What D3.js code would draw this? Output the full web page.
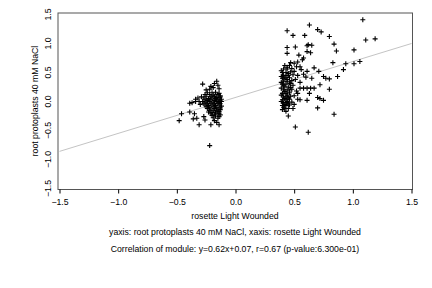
<!DOCTYPE html>
<meta charset="utf-8">

<!-- Load d3.js -->
<script src="https://d3js.org/d3.v7.min.js"></script>
<style>
    body { margin: 0; background: #fff; }
    text { font-family: "Liberation Sans", Arial, sans-serif; font-size: 8.7px; fill: #000; }
</style>

<div id="scatter"></div>

<script>
    // tick values on both axes
    var xTicks = [-1.5, -1.0, -0.5, 0.0, 0.5, 1.0, 1.5];
    var yTicks = [-1.5, -1.0, -0.5, 0.0, 0.5, 1.0, 1.5];

    // regression of the module
    var slope = 0.62, intercept = 0.07;

    var xLabel = "rosette Light Wounded";
    var yLabel = "root protoplasts 40 mM NaCl";
    var caption1 = "yaxis: root protoplasts 40 mM NaCl, xaxis: rosette Light Wounded";
    var caption2 = "Correlation of module: y=0.62x+0.07, r=0.67 (p-value:6.300e-01)";

    // left group of genes (x around -0.2)
    var groupLeft = [
        [-0.28,0.30],[-0.16,0.35],[-0.15,0.28],[-0.21,0.26],[-0.18,0.31],[-0.22,0.21],[-0.25,0.20],[-0.19,0.24],[-0.14,0.22],
        [-0.39,-0.03],[-0.37,-0.02],[-0.34,0.04],[-0.34,0.0],[-0.31,0.0],[-0.32,0.06],[-0.29,0.08],[-0.30,-0.05],
        [-0.46,-0.21],[-0.48,-0.33],[-0.39,-0.18],[-0.36,-0.30],[-0.35,-0.21],[-0.31,-0.40],[-0.33,-0.29],[-0.27,-0.26],
        [-0.26,-0.32],[-0.21,-0.40],[-0.22,-0.76],[-0.16,-0.36],[-0.14,-0.40],[-0.18,-0.33],
        [-0.24,0.15],[-0.20,0.15],[-0.17,0.16],[-0.14,0.14],
        [-0.26,0.12],[-0.22,0.12],[-0.19,0.11],[-0.15,0.12],[-0.13,0.10],
        [-0.25,0.09],[-0.21,0.08],[-0.18,0.09],[-0.16,0.07],[-0.13,0.08],
        [-0.27,0.06],[-0.23,0.05],[-0.20,0.06],[-0.17,0.05],[-0.14,0.06],[-0.12,0.04],
        [-0.26,0.03],[-0.24,0.02],[-0.21,0.03],[-0.18,0.02],[-0.15,0.03],[-0.13,0.01],
        [-0.28,0.0],[-0.25,-0.01],[-0.22,0.0],[-0.19,-0.01],[-0.16,0.0],[-0.14,-0.01],[-0.12,0.0],
        [-0.27,-0.03],[-0.24,-0.04],[-0.21,-0.03],[-0.18,-0.04],[-0.15,-0.03],[-0.13,-0.04],
        [-0.26,-0.06],[-0.23,-0.07],[-0.20,-0.06],[-0.17,-0.07],[-0.14,-0.06],[-0.12,-0.08],
        [-0.25,-0.09],[-0.22,-0.10],[-0.19,-0.09],[-0.16,-0.10],[-0.13,-0.11],
        [-0.24,-0.12],[-0.21,-0.13],[-0.18,-0.12],[-0.15,-0.13],[-0.13,-0.14],
        [-0.22,-0.15],[-0.19,-0.16],[-0.16,-0.15],[-0.14,-0.17],
        [-0.23,-0.18],[-0.20,-0.19],[-0.17,-0.18],[-0.14,-0.20],
        [-0.21,-0.21],[-0.18,-0.22],[-0.15,-0.21],[-0.13,-0.23],
        [-0.20,-0.24],[-0.17,-0.25],[-0.14,-0.26],
        [-0.19,-0.28],[-0.15,-0.29]
    ];

    // right group of genes (x around 0.45)
    var groupRight = [
        [1.085,1.41],[0.63,1.32],[0.70,1.24],[0.73,1.20],[0.44,1.22],[0.49,1.14],[0.59,1.14],[0.80,1.12],[1.11,1.06],
        [1.19,1.08],[0.84,0.99],[0.62,0.98],[0.65,0.97],[0.61,0.96],[0.44,0.93],[0.51,0.94],[0.86,0.87],[1.01,0.89],
        [0.61,0.86],[0.64,0.84],[0.44,0.83],[0.54,0.80],[0.83,0.67],[0.94,0.65],[1.01,0.65],[1.06,0.69],[0.58,0.75],
        [0.57,0.72],[0.47,0.67],[0.50,0.66],[0.53,0.68],[0.55,0.60],[0.92,0.55],[0.67,0.58],[0.71,0.52],[0.61,0.52],
        [0.75,0.43],[0.77,0.40],[0.87,0.43],[0.65,0.40],[0.80,0.39],[0.72,0.29],[0.55,0.23],[0.58,0.23],[0.61,0.23],
        [0.64,0.23],[0.67,0.23],[0.80,0.21],[0.63,0.14],[0.70,0.07],[0.72,0.05],[0.75,0.02],[0.61,0.02],[0.70,-0.11],
        [0.84,-0.22],[0.45,-0.25],[0.51,-0.44],[0.62,-0.53],[0.43,-0.17],
        [0.52,0.60],[0.56,0.55],[0.58,0.47],[0.60,0.42],[0.50,0.52],[0.53,0.45],[0.51,0.38],[0.55,0.33],
        [0.49,0.28],[0.52,0.18],[0.50,0.10],[0.53,0.04],[0.55,0.03],[0.50,-0.05],[0.49,-0.12],[0.53,0.14],
        [0.42,0.62],[0.46,0.62],[0.44,0.59],
        [0.41,0.56],[0.44,0.56],[0.48,0.57],[0.39,0.53],
        [0.40,0.50],[0.43,0.50],[0.47,0.51],[0.45,0.48],
        [0.41,0.45],[0.45,0.45],[0.49,0.46],[0.39,0.43],[0.43,0.42],
        [0.40,0.40],[0.42,0.40],[0.46,0.41],[0.44,0.38],
        [0.41,0.35],[0.44,0.35],[0.48,0.36],[0.39,0.33],[0.46,0.32],
        [0.40,0.30],[0.43,0.30],[0.47,0.31],[0.41,0.27],
        [0.42,0.25],[0.45,0.25],[0.39,0.23],[0.47,0.24],
        [0.41,0.20],[0.44,0.20],[0.48,0.21],[0.42,0.17],[0.46,0.18],
        [0.40,0.14],[0.43,0.14],[0.46,0.15],[0.39,0.11],[0.44,0.11],
        [0.41,0.08],[0.44,0.08],[0.47,0.09],[0.42,0.05],[0.45,0.06],
        [0.40,0.03],[0.43,0.03],[0.46,0.04],[0.39,0.00],[0.44,0.00],
        [0.41,-0.02],[0.44,-0.02],[0.48,-0.01],[0.42,-0.05],[0.45,-0.04],
        [0.40,-0.07],[0.43,-0.07],[0.46,-0.06],[0.41,-0.10],
        [0.42,-0.12],[0.45,-0.12],[0.40,-0.14]
    ];

    var width = 432, height = 288;

    var svg = d3.select("#scatter")
        .append("svg")
        .attr("width", width)
        .attr("height", height);

    var x = d3.scaleLinear()
        .domain([-1.5, 1.5])
        .range([59.5, 411.5]);

    var y = d3.scaleLinear()
        .domain([-1.5, 1.5])
        .range([188.5, 14.5]);

    // plot box
    svg.append("rect")
        .attr("x", 58)
        .attr("y", 13)
        .attr("width", 354.5)
        .attr("height", 176.5)
        .attr("fill", "none")
        .attr("stroke", "#555")
        .attr("stroke-width", 1);

    // regression line
    svg.append("line")
        .attr("x1", x(-1.5))
        .attr("y1", y(slope * -1.5 + intercept))
        .attr("x2", x(1.5))
        .attr("y2", y(slope * 1.5 + intercept))
        .attr("stroke", "#c4c4c4")
        .attr("stroke-width", 1);

    // x axis (ticks below the box)
    var xAxis = svg.append("g")
        .attr("transform", "translate(0,189.5)")
        .call(d3.axisBottom(x).tickValues(xTicks).tickSize(4).tickPadding(5)
            .tickFormat(d3.format(".1f")));
    xAxis.select(".domain").remove();
    xAxis.selectAll("text").style("font-size", "8.7px").style("font-family", "Liberation Sans, Arial, sans-serif");

    // y axis labels, rotated
    svg.selectAll(".ylab")
        .data(yTicks)
        .enter()
        .append("text")
        .attr("class", "ylab")
        .attr("text-anchor", "middle")
        .attr("transform", function(d) { return "translate(51," + y(d) + ") rotate(-90)"; })
        .text(function(d) { return d3.format(".1f")(d); });

    // points
    var cross = "M-2.5,0H2.5M0,-2.5V2.5";
    svg.selectAll(".pt")
        .data(groupLeft.concat(groupRight))
        .enter()
        .append("path")
        .attr("class", "pt")
        .attr("transform", function(d) { return "translate(" + x(d[0]) + "," + y(d[1]) + ")"; })
        .attr("d", cross)
        .attr("stroke", "#000")
        .attr("stroke-width", 1.1)
        .attr("fill", "none");

    // labels
    svg.append("text")
        .attr("x", 235).attr("y", 219)
        .attr("text-anchor", "middle")
        .text(xLabel);

    svg.append("text")
        .attr("transform", "translate(38,101) rotate(-90)")
        .attr("text-anchor", "middle")
        .text(yLabel);

    svg.append("text")
        .attr("x", 235).attr("y", 235)
        .attr("text-anchor", "middle")
        .text(caption1);

    svg.append("text")
        .attr("x", 235).attr("y", 252)
        .attr("text-anchor", "middle")
        .text(caption2);
</script>
